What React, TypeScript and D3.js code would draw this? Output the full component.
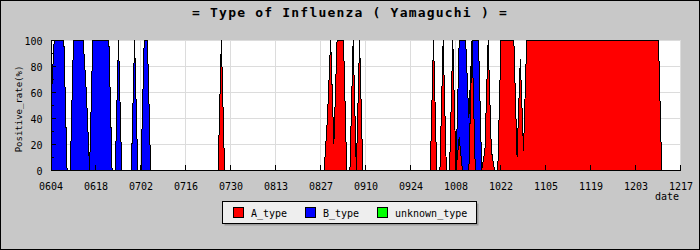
import React from 'react';
import * as d3 from 'd3';

// x-axis tick labels (every 14 days, 0604 .. 1217)
const TICK_LABELS = ['0604', '0618', '0702', '0716', '0730', '0813', '0827', '0910', '0924', '1008', '1022', '1105', '1119', '1203', '1217'];
const Y_TICKS = [0, 20, 40, 60, 80, 100];
const Y_MINOR = [10, 30, 50, 70, 90];
const SERIES = ['A_type', 'B_type', 'unknown_type'];
const COLORS = ['#ff0000', '#0000ff', '#00ff00'];

// daily positive rate (%), one line per 14 days starting at each tick date
const A_TYPE = [
  0, 0, 0, 0, 0, 0, 0, 0, 0, 0, 0, 0, 0, 0,
  0, 0, 0, 0, 0, 0, 0, 0, 0, 0, 0, 0, 0, 0,
  0, 0, 0, 0, 0, 0, 0, 0, 0, 0, 0, 0, 0, 0,
  0, 0, 0, 0, 0, 0, 0, 0, 0, 0, 0, 100, 0, 0,
  0, 0, 0, 0, 0, 0, 0, 0, 0, 0, 0, 0, 0, 0,
  0, 0, 0, 0, 0, 0, 0, 0, 0, 0, 0, 0, 0, 0,
  0, 0, 40, 100, 20, 100, 100, 100, 0, 0, 100, 0, 100, 0,
  0, 0, 0, 0, 0, 0, 0, 0, 0, 0, 0, 0, 0, 0,
  0, 0, 0, 0, 0, 0, 0, 100, 0, 0, 100, 0, 0, 100,
  0, 25, 0, 0, 0, 100, 0, 0, 0, 15, 100, 15, 0, 0,
  100, 100, 100, 100, 100, 10, 85, 15, 100, 100, 100, 100, 100, 100,
  100, 100, 100, 100, 100, 100, 100, 100, 100, 100, 100, 100, 100, 100,
  100, 100, 100, 100, 100, 100, 100, 100, 100, 100, 100, 100, 100, 100,
  100, 100, 100, 100, 100, 100, 100, 100, 0, 0, 0, 0, 0, 0,
  0,
];
const B_TYPE = [
  50, 100, 100, 100, 100, 0, 0, 100, 100, 100, 100, 60, 0, 100,
  100, 100, 100, 100, 100, 0, 0, 100, 0, 0, 0, 0, 100, 0,
  0, 100, 100, 0, 0, 0, 0, 0, 0, 0, 0, 0, 0, 0,
  0, 0, 0, 0, 0, 0, 0, 0, 0, 0, 0, 0, 0, 0,
  0, 0, 0, 0, 0, 0, 0, 0, 0, 0, 0, 0, 0, 0,
  0, 0, 0, 0, 0, 0, 0, 0, 0, 0, 0, 0, 0, 0,
  0, 0, 0, 0, 0, 0, 0, 0, 0, 0, 0, 0, 0, 0,
  0, 0, 0, 0, 0, 0, 0, 0, 0, 0, 0, 0, 0, 0,
  0, 0, 0, 0, 0, 0, 0, 0, 0, 0, 0, 0, 0, 0,
  0, 75, 100, 100, 40, 0, 100, 100, 0, 0, 0, 0, 0, 0,
  0, 0, 0, 0, 0, 0, 0, 0, 0, 0, 0, 0, 0, 0,
  0, 0, 0, 0, 0, 0, 0, 0, 0, 0, 0, 0, 0, 0,
  0, 0, 0, 0, 0, 0, 0, 0, 0, 0, 0, 0, 0, 0,
  0, 0, 0, 0, 0, 0, 0, 0, 0, 0, 0, 0, 0, 0,
  0,
];
const UNKNOWN_TYPE = [
  0, 0, 0, 0, 0, 0, 0, 0, 0, 0, 0, 0, 0, 0,
  0, 0, 0, 0, 0, 0, 0, 0, 0, 0, 0, 0, 0, 0,
  0, 0, 0, 0, 0, 0, 0, 0, 0, 0, 0, 0, 0, 0,
  0, 0, 0, 0, 0, 0, 0, 0, 0, 0, 0, 0, 0, 0,
  0, 0, 0, 0, 0, 0, 0, 0, 0, 0, 0, 0, 0, 0,
  0, 0, 0, 0, 0, 0, 0, 0, 0, 0, 0, 0, 0, 0,
  0, 0, 0, 0, 0, 0, 0, 0, 0, 0, 0, 0, 0, 0,
  0, 0, 0, 0, 0, 0, 0, 0, 0, 0, 0, 0, 0, 0,
  0, 0, 0, 0, 0, 0, 0, 0, 0, 0, 0, 0, 0, 0,
  0, 0, 0, 0, 0, 0, 0, 0, 0, 0, 0, 0, 0, 0,
  0, 0, 0, 0, 0, 0, 0, 0, 0, 0, 0, 0, 0, 0,
  0, 0, 0, 0, 0, 0, 0, 0, 0, 0, 0, 0, 0, 0,
  0, 0, 0, 0, 0, 0, 0, 0, 0, 0, 0, 0, 0, 0,
  0, 0, 0, 0, 0, 0, 0, 0, 0, 0, 0, 0, 0, 0,
  0,
];

const W = 700;
const H = 250;
const PL = 51;
const PR = 681;
const PT = 40;
const PB = 170;
const FONT = "'DejaVu Sans Mono', monospace";

export default function App() {
  const n = A_TYPE.length;
  const x = d3.scaleLinear().domain([0, n - 1]).range([PL, PR]);
  const y = d3.scaleLinear().domain([0, 100]).range([PB, PT]);
  const tickIdx = TICK_LABELS.map((_, k) => k * 14);

  const table = d3.range(n).map((i) => ({
    A_type: A_TYPE[i],
    B_type: B_TYPE[i],
    unknown_type: UNKNOWN_TYPE[i],
  }));
  const layers = d3.stack<any>().keys(SERIES)(table);
  const area = d3
    .area<any>()
    .x((_, i) => x(i))
    .y0((d) => y(d[0]))
    .y1((d) => y(d[1]))
    .curve(d3.curveLinear);

  const legendX = [233.5, 305.5, 377.5];

  return (
    <div style={{ position: 'absolute', left: 0, top: 0 }}>
      <svg width={W} height={H} style={{ display: 'block' }}>
        <rect x={0.5} y={0.5} width={W - 1} height={H - 1} fill="#c8c8c8" stroke="#000" />
        <text
          x={W / 2}
          y={16.5}
          textAnchor="middle"
          fontFamily={FONT}
          fontSize={13}
          fontWeight="bold"
          letterSpacing={1.2}
          fill="#000"
        >
          = Type of Influenza ( Yamaguchi ) =
        </text>

        {/* plot background */}
        <rect x={PL} y={PT} width={PR - PL} height={PB - PT} fill="#ffffff" />
        {/* grid */}
        <g stroke="#dcdcdc" strokeWidth={1} shapeRendering="crispEdges">
          {Y_TICKS.filter((v) => v > 0).map((v) => (
            <line key={'gy' + v} x1={PL} x2={PR} y1={Math.round(y(v)) + 0.5} y2={Math.round(y(v)) + 0.5} />
          ))}
          {tickIdx.slice(1).map((i) => (
            <line key={'gx' + i} x1={Math.round(x(i)) - 0.5} x2={Math.round(x(i)) - 0.5} y1={PT} y2={PB} />
          ))}
        </g>

        {/* stacked areas */}
        {layers.map((layer, k) => (
          <path
            key={SERIES[k]}
            d={area(layer as any) || ''}
            fill={COLORS[k]}
            stroke="#000"
            strokeWidth={1}
            shapeRendering="crispEdges"
          />
        ))}

        {/* axes */}
        <g stroke="#000" strokeWidth={1} shapeRendering="crispEdges">
          <line x1={PL + 0.5} x2={PL + 0.5} y1={PT} y2={PB + 1} />
          <line x1={PL} x2={PR} y1={PB + 0.5} y2={PB + 0.5} />
          {Y_TICKS.map((v) => (
            <line key={'ty' + v} x1={PL} x2={PL + 5} y1={Math.round(y(v)) + 0.5} y2={Math.round(y(v)) + 0.5} />
          ))}
          {Y_MINOR.map((v) => (
            <line key={'tm' + v} x1={PL} x2={PL + 3} y1={Math.round(y(v)) + 0.5} y2={Math.round(y(v)) + 0.5} />
          ))}
          {tickIdx.slice(1).map((i) => (
            <line key={'tx' + i} x1={Math.round(x(i)) - 0.5} x2={Math.round(x(i)) - 0.5} y1={PB - 5} y2={PB} />
          ))}
        </g>

        {/* tick labels */}
        <g fontFamily={FONT} fontSize={10} fill="#000">
          {Y_TICKS.map((v) => (
            <text key={'ly' + v} x={42.5} y={y(v) + 4.5} textAnchor="end">
              {v}
            </text>
          ))}
          {TICK_LABELS.map((t, k) => (
            <text key={'lx' + t} x={x(tickIdx[k])} y={190} textAnchor="middle">
              {t}
            </text>
          ))}
          <text x={679} y={200} textAnchor="end">
            date
          </text>
        </g>
        <text
          transform={`translate(22,109) rotate(-90)`}
          textAnchor="middle"
          fontFamily={FONT}
          fontSize={9}
          fill="#000"
        >
          Positive_rate(%)
        </text>

        {/* legend */}
        <rect x={224.5} y={203.5} width={254} height={22} fill="#9a9a9a" />
        <rect x={222.5} y={201.5} width={254} height={22} fill="#eeeeee" stroke="#000" shapeRendering="crispEdges" />
        {SERIES.map((s, k) => (
          <g key={'lg' + s}>
            <rect x={legendX[k]} y={207.5} width={10} height={10} fill={COLORS[k]} stroke="#000" shapeRendering="crispEdges" />
            <text x={legendX[k] + 17.5} y={216.5} fontFamily={FONT} fontSize={10} fill="#000">
              {s}
            </text>
          </g>
        ))}
      </svg>
    </div>
  );
}
